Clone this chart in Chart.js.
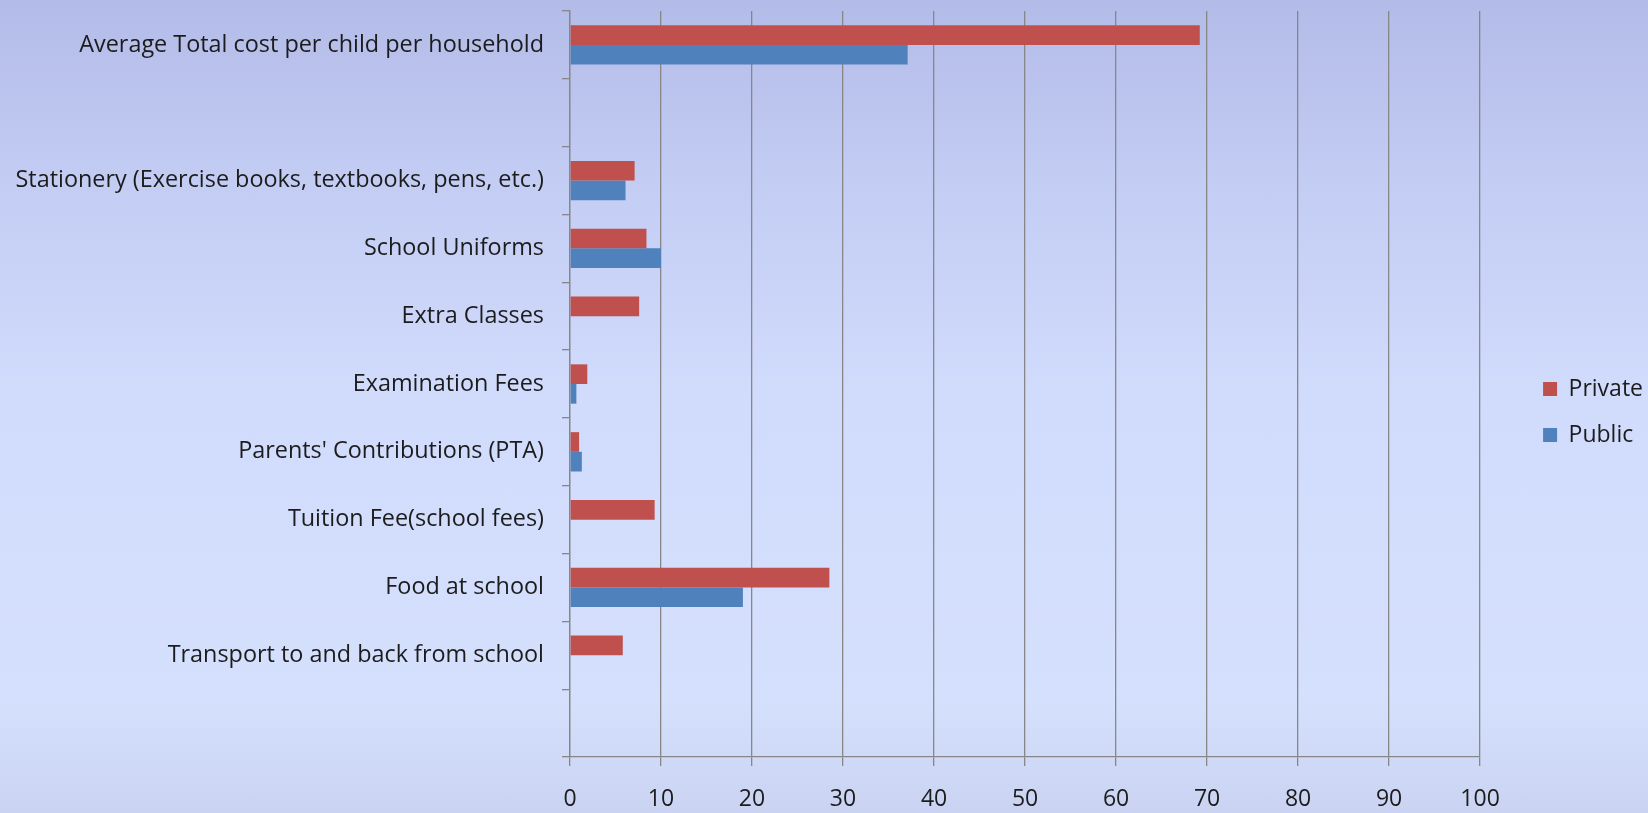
<!DOCTYPE html>
<html>
<head>
<meta charset="utf-8">
<script src="https://cdn.jsdelivr.net/npm/chart.js@4.4.1/dist/chart.umd.min.js"></script>
<style>
  html, body { margin: 0; padding: 0; }
  body {
    width: 1648px; height: 813px; overflow: hidden;
    background: linear-gradient(to bottom, #b3bbe8 0%, #c3ccf3 22%, #d1dbfc 48%, #d5e0fd 86%, #cad4f2 100%);
  }
  #c { display: block; }
</style>
</head>
<body>
<canvas id="c" width="1648" height="813"></canvas>
<script>
// ---- data ----
const categories = [
  "Average Total cost per child per household",
  "",
  "Stationery (Exercise books, textbooks, pens, etc.)",
  "School Uniforms",
  "Extra Classes",
  "Examination Fees",
  "Parents' Contributions (PTA)",
  "Tuition Fee(school fees)",
  "Food at school",
  "Transport to and back from school",
  ""
];
const privateCosts = [69.2, null, 7.1, 8.4, 7.6, 1.9, 1.0, 9.3, 28.5, 5.8, null];
const publicCosts  = [37.1, null, 6.1, 10.0, 0, 0.7, 1.3, 0, 19.0, 0, null];
const seriesNames = ["Private", "Public"];
const xTickMin = 0;
const xTickMax = 100;
const xTickStep = 10;

// ---- styles ----
const FONT = "'Open Sans', 'DejaVu Sans', sans-serif";
const TEXT = "#1c1c1c";
const GRID = "#878787";
const FS = 23;

Chart.defaults.font.family = FONT;
Chart.defaults.font.size = FS;
Chart.defaults.color = TEXT;

new Chart(document.getElementById('c'), {
  type: 'bar',
  data: {
    labels: categories,
    datasets: [
      { label: seriesNames[0], data: privateCosts, backgroundColor: '#c0504d', borderWidth: 0 },
      { label: seriesNames[1], data: publicCosts,  backgroundColor: '#4f81bd', borderWidth: 0 }
    ]
  },
  options: {
    indexAxis: 'y',
    responsive: false,
    animation: false,
    devicePixelRatio: 1,
    categoryPercentage: 0.58,
    barPercentage: 1.0,
    layout: { padding: { top: 11, left: 0, right: -5, bottom: 0 } },
    plugins: {
      legend: {
        position: 'right',
        labels: {
          boxWidth: 14, boxHeight: 14, padding: 23,
          color: TEXT, font: { size: FS, family: FONT }
        }
      },
      tooltip: { enabled: false }
    },
    scales: {
      x: {
        type: 'linear',
        min: xTickMin, max: xTickMax,
        ticks: { stepSize: xTickStep, padding: 20, color: TEXT, font: { size: FS } },
        grid: { color: GRID, lineWidth: 1.3, tickLength: 9, drawOnChartArea: true },
        border: { display: true, color: GRID, width: 1.3 },
        afterFit: (s) => { s.height = 56; }
      },
      y: {
        type: 'category',
        offset: true,
        ticks: { padding: 18, color: TEXT, font: { size: 23.4 }, autoSkip: false },
        grid: { offset: true, drawOnChartArea: false, color: GRID, lineWidth: 1.3, tickLength: 8 },
        border: { display: true, color: GRID, width: 1.3 },
        afterFit: (s) => { s.width = 570; s.paddingTop = 0; s.paddingBottom = 0; }
      },
      gap: {
        type: 'linear',
        position: 'right',
        display: true,
        grid: { display: false },
        border: { display: false },
        ticks: { display: false },
        afterFit: (s) => { s.width = 40; s.paddingTop = 0; s.paddingBottom = 0; }
      }
    }
  }
});
</script>
</body>
</html>
